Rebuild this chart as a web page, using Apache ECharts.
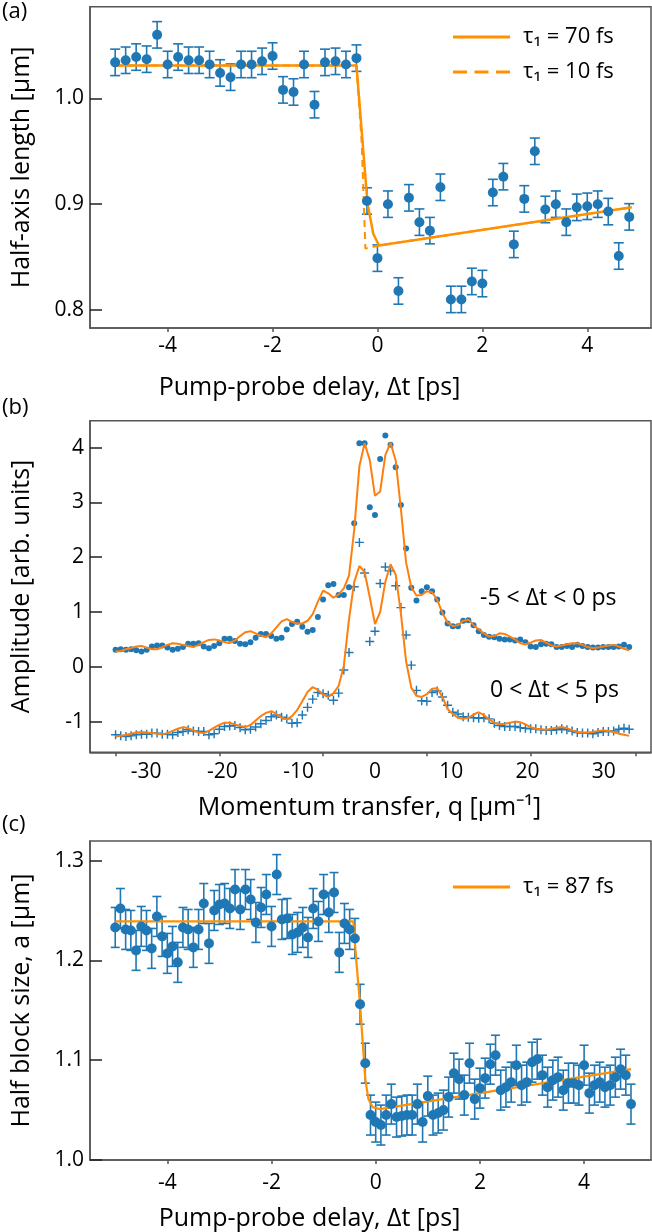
<!DOCTYPE html>
<html>
<head>
<meta charset="utf-8">
<script src="https://cdn.jsdelivr.net/npm/echarts@6.0.0/dist/echarts.min.js"></script>
<style>
  html, body { margin: 0; padding: 0; background: #fff; }
  #chart { width: 652px; height: 1232px; }
</style>
</head>
<body>
<div id="chart"></div>
<script>
// ---- panel (a): half-axis length vs delay ----
var timeA = [-5.0,-4.8,-4.6,-4.4,-4.2,-4.0,-3.8,-3.6,-3.4,-3.2,-3.0,-2.8,-2.6,-2.4,-2.2,-2.0,-1.8,-1.6,-1.4,-1.2,
  -1.0,-0.8,-0.6,-0.4,-0.2,0.0,0.2,0.4,0.6,0.8,1.0,1.2,1.4,1.6,1.8,2.0,2.2,2.4,2.6,2.8,
  3.0,3.2,3.4,3.6,3.8,4.0,4.2,4.4,4.6,4.8];
var sizeA = [1.034,1.036,1.039,1.037,1.060,1.032,1.039,1.036,1.036,1.032,1.024,1.020,1.032,1.032,1.035,1.040,1.008,1.006,1.032,0.994,
  1.034,1.035,1.032,1.038,0.903,0.849,0.900,0.818,0.906,0.883,0.875,0.916,0.810,0.810,0.827,0.825,0.911,0.926,0.862,0.905,
  0.950,0.895,0.900,0.883,0.897,0.898,0.900,0.893,0.851,0.888];
var errA = 0.0125;
var fit70T = [-5.0, -0.40, -0.19, -0.08, 0.03, 4.85];
var fit70V = [1.031, 1.031, 0.901, 0.872, 0.861, 0.897];
var fit10T = [-5.0, -0.40, -0.30, -0.23, 0.03, 4.85];
var fit10V = [1.031, 1.031, 0.958, 0.858, 0.861, 0.897];

// ---- panel (b): amplitude vs momentum transfer ----
var qB = [-34.00,-33.32,-32.64,-31.96,-31.28,-30.60,-29.92,-29.24,-28.56,-27.88,
  -27.20,-26.52,-25.84,-25.16,-24.48,-23.80,-23.12,-22.44,-21.76,-21.08,
  -20.40,-19.72,-19.04,-18.36,-17.68,-17.00,-16.32,-15.64,-14.96,-14.28,
  -13.60,-12.92,-12.24,-11.56,-10.88,-10.20,-9.52,-8.84,-8.16,-7.48,
  -6.80,-6.12,-5.44,-4.76,-4.08,-3.40,-2.72,-2.04,-1.36,-0.68,
  0,0.68,1.36,2.04,2.72,3.40,4.08,4.76,5.44,6.12,
  6.80,7.48,8.16,8.84,9.52,10.20,10.88,11.56,12.24,12.92,
  13.60,14.28,14.96,15.64,16.32,17.00,17.68,18.36,19.04,19.72,
  20.40,21.08,21.76,22.44,23.12,23.80,24.48,25.16,25.84,26.52,
  27.20,27.88,28.56,29.24,29.92,30.60,31.28,31.96,32.64,33.32];
var ampBefore = [0.31,0.32,0.31,0.32,0.30,0.28,0.31,0.37,0.39,0.39,
  0.35,0.31,0.33,0.36,0.42,0.42,0.43,0.37,0.34,0.38,
  0.43,0.51,0.51,0.47,0.42,0.41,0.45,0.53,0.60,0.60,
  0.56,0.51,0.53,0.68,0.78,0.82,0.73,0.64,0.67,0.91,
  1.23,1.49,1.51,1.31,1.31,1.45,2.62,4.08,4.08,2.91,
  2.77,3.79,4.22,4.05,3.64,2.95,2.16,1.44,1.21,1.38,
  1.45,1.38,1.23,0.99,0.79,0.74,0.74,0.84,0.85,0.76,
  0.65,0.58,0.55,0.54,0.51,0.50,0.50,0.48,0.50,0.45,
  0.37,0.36,0.41,0.42,0.41,0.36,0.36,0.38,0.36,0.40,
  0.38,0.36,0.35,0.35,0.36,0.36,0.36,0.37,0.40,0.36];
var ampAfter = [-1.24,-1.26,-1.27,-1.26,-1.24,-1.23,-1.23,-1.21,-1.21,-1.23,
  -1.23,-1.24,-1.20,-1.18,-1.15,-1.17,-1.18,-1.18,-1.24,-1.22,
  -1.14,-1.09,-1.08,-1.07,-1.11,-1.15,-1.14,-1.10,-1.04,-0.98,
  -0.91,-0.88,-0.92,-0.95,-1.03,-1.02,-0.88,-0.74,-0.59,-0.47,
  -0.49,-0.52,-0.61,-0.48,-0.06,0.26,1.46,2.27,1.71,0.46,
  0.65,1.52,1.82,1.75,1.48,1.08,0.58,0.03,-0.43,-0.62,
  -0.63,-0.47,-0.44,-0.55,-0.70,-0.83,-0.86,-0.91,-0.92,-0.93,
  -0.94,-0.93,-0.95,-1.03,-1.07,-1.09,-1.09,-1.09,-1.11,-1.12,
  -1.13,-1.13,-1.15,-1.16,-1.16,-1.15,-1.13,-1.15,-1.17,-1.20,
  -1.21,-1.21,-1.22,-1.20,-1.18,-1.18,-1.17,-1.14,-1.12,-1.14];
var fitBefore = [0.28,0.29,0.32,0.34,0.37,0.38,0.35,0.32,0.32,0.36,
  0.40,0.43,0.42,0.40,0.38,0.36,0.40,0.45,0.49,0.50,
  0.48,0.45,0.43,0.48,0.56,0.63,0.65,0.61,0.57,0.54,
  0.61,0.72,0.83,0.87,0.82,0.79,0.79,0.84,0.96,1.19,
  1.39,1.34,1.26,1.32,1.43,1.67,2.50,3.66,4.08,3.77,
  3.12,3.20,3.86,4.09,3.76,2.88,1.90,1.45,1.30,1.31,
  1.38,1.36,1.22,0.98,0.81,0.74,0.76,0.84,0.86,0.76,
  0.68,0.61,0.55,0.56,0.61,0.60,0.55,0.50,0.43,0.41,
  0.44,0.48,0.49,0.44,0.39,0.37,0.39,0.41,0.43,0.43,
  0.40,0.36,0.34,0.35,0.37,0.39,0.40,0.37,0.33,0.30];
var fitAfter = [-1.27,-1.26,-1.24,-1.22,-1.20,-1.19,-1.20,-1.21,-1.22,-1.23,
  -1.21,-1.17,-1.13,-1.10,-1.12,-1.16,-1.20,-1.21,-1.17,-1.11,
  -1.06,-1.02,-1.02,-1.05,-1.08,-1.10,-1.06,-0.98,-0.90,-0.84,
  -0.81,-0.86,-0.93,-0.96,-0.90,-0.79,-0.63,-0.46,-0.37,-0.42,
  -0.51,-0.55,-0.48,-0.35,0.02,0.87,1.55,1.84,1.73,1.27,
  0.78,1.00,1.55,1.87,1.68,0.97,0.10,-0.38,-0.53,-0.55,
  -0.50,-0.40,-0.39,-0.55,-0.77,-0.86,-0.93,-0.95,-0.93,-0.87,
  -0.83,-0.88,-0.96,-1.02,-1.05,-1.04,-1.02,-1.00,-1.01,-1.05,
  -1.10,-1.13,-1.14,-1.15,-1.13,-1.11,-1.10,-1.12,-1.16,-1.19,
  -1.20,-1.20,-1.19,-1.17,-1.16,-1.17,-1.19,-1.22,-1.24,-1.26];

// ---- panel (c): half block size vs delay ----
var timeC = [-5.0,-4.9,-4.8,-4.7,-4.6,-4.5,-4.4,-4.3,-4.2,-4.1,-4.0,-3.9,-3.8,-3.7,-3.6,-3.5,-3.4,-3.3,-3.2,-3.1,
  -3.0,-2.9,-2.8,-2.7,-2.6,-2.5,-2.4,-2.3,-2.2,-2.1,-2.0,-1.9,-1.8,-1.7,-1.6,-1.5,-1.4,-1.3,-1.2,-1.1,
  -1.0,-0.9,-0.8,-0.7,-0.6,-0.5,-0.4,-0.3,-0.2,-0.1,0.0,0.1,0.2,0.3,0.4,0.5,0.6,0.7,0.8,0.9,
  1.0,1.1,1.2,1.3,1.4,1.5,1.6,1.7,1.8,1.9,2.0,2.1,2.2,2.3,2.4,2.5,2.6,2.7,2.8,2.9,
  3.0,3.1,3.2,3.3,3.4,3.5,3.6,3.7,3.8,3.9,4.0,4.1,4.2,4.3,4.4,4.5,4.6,4.7,4.8,4.9];
var sizeC = [1.233,1.252,1.231,1.230,1.210,1.234,1.230,1.212,1.244,1.224,
  1.207,1.214,1.198,1.233,1.231,1.213,1.231,1.257,1.217,1.250,
  1.256,1.257,1.252,1.271,1.251,1.271,1.261,1.238,1.253,1.266,
  1.234,1.286,1.241,1.242,1.226,1.228,1.233,1.223,1.252,1.239,
  1.266,1.248,1.268,1.208,1.237,1.231,1.222,1.156,1.097,1.045,
  1.038,1.035,1.045,1.056,1.043,1.044,1.045,1.045,1.056,1.038,
  1.064,1.045,1.047,1.050,1.063,1.087,1.081,1.065,1.097,1.061,
  1.072,1.082,1.096,1.105,1.070,1.073,1.078,1.095,1.075,1.078,
  1.098,1.101,1.085,1.073,1.080,1.083,1.070,1.077,1.077,1.075,
  1.095,1.067,1.075,1.078,1.073,1.075,1.083,1.091,1.085,1.056];
var errC = 0.02;
var fitCT = [-5.0, -0.43, -0.37, -0.30, -0.25, -0.20, -0.14, -0.06, 0.08, 4.9];
var fitCV = [1.239, 1.239, 1.198, 1.156, 1.118, 1.081, 1.061, 1.053, 1.051, 1.091];

var ticksTime = [-4, -2, 0, 2, 4];
var ticksQLabel = [-30, -20, -10, 0, 10, 20, 30];
var ticksQMark = [-34.0, -20.4, -6.8, 6.8, 20.4, 34.2];
var ticksA = [0.8, 0.9, 1.0];
var ticksB = [-1, 0, 1, 2, 3, 4];
var ticksC = [1.0, 1.1, 1.2, 1.3];

var BLUE = '#1f77b4';
var ORANGE = '#ff9000';
var ORANGE_B = '#ff7f0e';
var FONT = 'Open Sans';
var AXIS = '#555';
var ICON_SOLID = 'path://M0,0H57V3H0Z';
var ICON_DASH = 'path://M0,0H14V3H0ZM21.5,0H35.5V3H21.5ZM43,0H57V3H43Z';

function pairs(xs, ys) { return xs.map(function (x, i) { return [x, ys[i]]; }); }
function withErr(xs, ys, e) { return xs.map(function (x, i) { return [x, ys[i], e]; }); }

function errBars(capHalf) {
  return function (params, api) {
    var x = api.value(0), y = api.value(1), e = api.value(2);
    var lo = api.coord([x, y - e]), hi = api.coord([x, y + e]);
    var st = { stroke: BLUE, lineWidth: 1.6 };
    return {
      type: 'group',
      children: [
        { type: 'line', shape: { x1: lo[0], y1: lo[1], x2: hi[0], y2: hi[1] }, style: st },
        { type: 'line', shape: { x1: lo[0] - capHalf, y1: lo[1], x2: lo[0] + capHalf, y2: lo[1] }, style: st },
        { type: 'line', shape: { x1: hi[0] - capHalf, y1: hi[1], x2: hi[0] + capHalf, y2: hi[1] }, style: st }
      ]
    };
  };
}

function xAxisCfg(idx, min, max, labels, ticks, name, gap, labelMargin, shiftLeft) {
  return {
    type: 'value', gridIndex: idx, min: min, max: max,
    name: name, nameLocation: 'middle', nameGap: gap,
    nameTextStyle: { fontSize: 25, fontFamily: FONT, color: '#000', padding: [0, shiftLeft * 2, 0, 0] },
    axisLine: { show: true, onZero: false, lineStyle: { color: AXIS, width: 1.5 } },
    axisTick: { show: true, length: 4, customValues: ticks, lineStyle: { color: AXIS, width: 1.5 } },
    axisLabel: { customValues: labels, fontSize: 21, fontFamily: FONT, color: '#000', margin: labelMargin },
    splitLine: { show: false }
  };
}

function yAxisCfg(idx, min, max, ticks, dec, name, gap) {
  return {
    type: 'value', gridIndex: idx, min: min, max: max,
    name: name, nameLocation: 'middle', nameGap: gap,
    nameTextStyle: { fontSize: 25, fontFamily: FONT, color: '#000' },
    axisLine: { show: true, onZero: false, lineStyle: { color: AXIS, width: 1.5 } },
    axisTick: { show: true, inside: true, length: 12, customValues: ticks, lineStyle: { color: '#222', width: 1.5 } },
    axisLabel: {
      customValues: ticks, fontSize: 21, fontFamily: FONT, color: '#000', margin: 6,
      formatter: function (v) { return v.toFixed(dec); }
    },
    splitLine: { show: false }
  };
}

var gridBox = { show: true, borderColor: AXIS, borderWidth: 1.5, left: 90, right: 1 };

var option = {
  animation: false,
  backgroundColor: '#fff',
  textStyle: { fontFamily: FONT },
  grid: [
    Object.assign({}, gridBox, { top: 6.7, height: 321.3 }),
    Object.assign({}, gridBox, { top: 420.7, height: 331.6 }),
    Object.assign({}, gridBox, { top: 841, height: 321.3 })
  ],
  xAxis: [
    xAxisCfg(0, -5.48, 5.215, ticksTime, ticksTime, 'Pump-probe delay, \u0394t [ps]', 47, 8, 61),
    xAxisCfg(1, -37.35, 36.18, ticksQLabel, ticksQMark, 'Momentum transfer, q [\u03bcm\u207b\u00b9]', 43, 9, 1),
    xAxisCfg(2, -5.484, 5.284, ticksTime, ticksTime, 'Pump-probe delay, \u0394t [ps]', 46, 13, 61)
  ],
  yAxis: [
    yAxisCfg(0, 0.783, 1.0866, ticksA, 1, 'Half-axis length [\u03bcm]', 56),
    yAxisCfg(1, -1.56, 4.49, ticksB, 0, 'Amplitude [arb. units]', 56),
    yAxisCfg(2, 1.0, 1.3196, ticksC, 1, 'Half block size, a [\u03bcm]', 56)
  ],
  legend: [
    {
      left: 453, top: 26, orient: 'vertical', padding: 0,
      itemWidth: 57, itemHeight: 3, itemGap: 13,
      data: [{ name: '\u03c4\u2081 = 70 fs', icon: ICON_SOLID }, { name: '\u03c4\u2081 = 10 fs', icon: ICON_DASH }],
      textStyle: { fontSize: 22, fontFamily: FONT, color: '#000', padding: [0, 0, 0, 8] }
    },
    {
      left: 453, top: 876, orient: 'vertical', padding: 0,
      itemWidth: 57, itemHeight: 3,
      data: [{ name: '\u03c4\u2081 = 87 fs', icon: ICON_SOLID }],
      textStyle: { fontSize: 22, fontFamily: FONT, color: '#000', padding: [0, 0, 0, 8] }
    }
  ],
  graphic: [
    { type: 'text', x: 2, y: 12, style: { text: '(a)', fontSize: 22, fontFamily: FONT, fill: '#000', verticalAlign: 'middle' } },
    { type: 'text', x: 2, y: 408, style: { text: '(b)', fontSize: 22, fontFamily: FONT, fill: '#000', verticalAlign: 'middle' } },
    { type: 'text', x: 2, y: 825, style: { text: '(c)', fontSize: 22, fontFamily: FONT, fill: '#000', verticalAlign: 'middle' } },
    { type: 'text', x: 480, y: 598, style: { text: '-5 < \u0394t < 0 ps', fontSize: 23, fontFamily: FONT, fill: '#000', verticalAlign: 'middle' } },
    { type: 'text', x: 490, y: 690, style: { text: '0 < \u0394t < 5 ps', fontSize: 23, fontFamily: FONT, fill: '#000', verticalAlign: 'middle' } }
  ],
  series: [
    // (a)
    { type: 'custom', xAxisIndex: 0, yAxisIndex: 0, renderItem: errBars(5), data: withErr(timeA, sizeA, errA), encode: { x: 0, y: 1 }, z: 2 },
    { type: 'line', name: '\u03c4\u2081 = 70 fs', xAxisIndex: 0, yAxisIndex: 0, data: pairs(fit70T, fit70V), symbol: 'none',
      lineStyle: { color: ORANGE, width: 2.5 }, itemStyle: { color: ORANGE }, z: 3 },
    { type: 'line', name: '\u03c4\u2081 = 10 fs', xAxisIndex: 0, yAxisIndex: 0, data: pairs(fit10T, fit10V), symbol: 'none',
      lineStyle: { color: ORANGE, width: 2, type: [7, 5] }, itemStyle: { color: ORANGE }, z: 3 },
    { type: 'scatter', xAxisIndex: 0, yAxisIndex: 0, data: pairs(timeA, sizeA), symbolSize: 10, itemStyle: { color: BLUE, opacity: 1 }, z: 4 },
    // (b)
    { type: 'scatter', xAxisIndex: 1, yAxisIndex: 1, data: pairs(qB, ampBefore), symbolSize: 6, itemStyle: { color: BLUE, opacity: 1 }, z: 2 },
    { type: 'scatter', xAxisIndex: 1, yAxisIndex: 1, data: pairs(qB, ampAfter), symbol: 'path://M4.2,0H5.8V4.2H10V5.8H5.8V10H4.2V5.8H0V4.2H4.2Z',
      symbolSize: 9, itemStyle: { color: BLUE, opacity: 1 }, z: 2 },
    { type: 'line', xAxisIndex: 1, yAxisIndex: 1, data: pairs(qB, fitBefore), symbol: 'none', lineStyle: { color: ORANGE_B, width: 2 }, z: 3 },
    { type: 'line', xAxisIndex: 1, yAxisIndex: 1, data: pairs(qB, fitAfter), symbol: 'none', lineStyle: { color: ORANGE_B, width: 2 }, z: 3 },
    // (c)
    { type: 'custom', xAxisIndex: 2, yAxisIndex: 2, renderItem: errBars(4.5), data: withErr(timeC, sizeC, errC), encode: { x: 0, y: 1 }, z: 2 },
    { type: 'line', name: '\u03c4\u2081 = 87 fs', xAxisIndex: 2, yAxisIndex: 2, data: pairs(fitCT, fitCV), symbol: 'none',
      lineStyle: { color: ORANGE, width: 2.2 }, itemStyle: { color: ORANGE }, z: 3 },
    { type: 'scatter', xAxisIndex: 2, yAxisIndex: 2, data: pairs(timeC, sizeC), symbolSize: 10, itemStyle: { color: BLUE, opacity: 1 }, z: 4 }
  ]
};

var myChart = echarts.init(document.getElementById('chart'), null, { renderer: 'canvas' });
myChart.setOption(option);
</script>
</body>
</html>
